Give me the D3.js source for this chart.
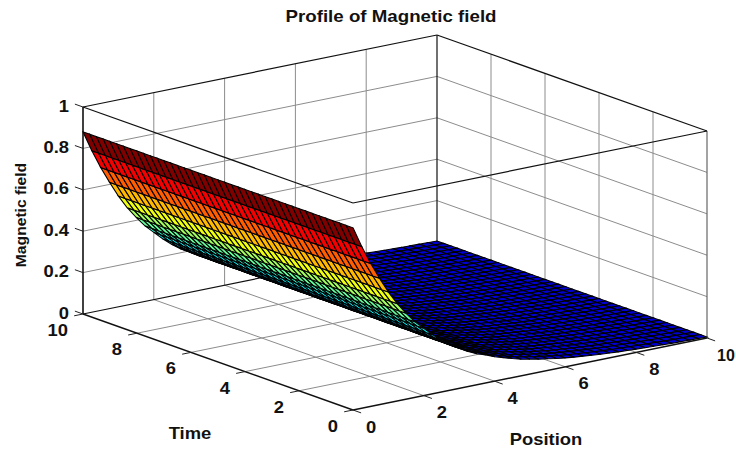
<!DOCTYPE html>
<html>
<head>
<meta charset="utf-8">
<script src="https://cdn.jsdelivr.net/npm/d3@7"></script>
<style>
html, body { margin: 0; padding: 0; background: #fff; overflow: hidden; }
text { font-family: "Liberation Sans", Arial, sans-serif; font-weight: bold; fill: #111; }
</style>
</head>
<body>
<div id="chart"></div>
<script>
// values
var positionValues = [0, 0.25, 0.5, 0.75, 1, 1.25, 1.5, 1.75, 2, 2.25, 2.5, 2.75, 3, 3.25, 3.5, 3.75, 4, 4.25, 4.5, 4.75, 5,
    5.25, 5.5, 5.75, 6, 6.25, 6.5, 6.75, 7, 7.25, 7.5, 7.75, 8, 8.25, 8.5, 8.75, 9, 9.25, 9.5, 9.75, 10];
var timeValues = [0, 0.25, 0.5, 0.75, 1, 1.25, 1.5, 1.75, 2, 2.25, 2.5, 2.75, 3, 3.25, 3.5, 3.75, 4, 4.25, 4.5, 4.75, 5,
    5.25, 5.5, 5.75, 6, 6.25, 6.5, 6.75, 7, 7.25, 7.5, 7.75, 8, 8.25, 8.5, 8.75, 9, 9.25, 9.5, 9.75, 10];
// field along position, same profile at every time
var fieldValues = [0.88, 0.78, 0.69, 0.61, 0.535, 0.47, 0.415, 0.365, 0.325, 0.285, 0.25, 0.22, 0.195, 0.17, 0.15, 0.135, 0.118, 0.105, 0.092, 0.08, 0.072,
    0.063, 0.056, 0.049, 0.043, 0.038, 0.034, 0.03, 0.026, 0.023, 0.02, 0.018, 0.016, 0.014, 0.012, 0.011, 0.009, 0.008, 0.007, 0.006, 0.005];
var positionTicks = [0, 2, 4, 6, 8, 10];
var timeTicks = [0, 2, 4, 6, 8, 10];
var fieldTicks = [0, 0.2, 0.4, 0.6, 0.8, 1];
var fieldTickLabels = ["0", "0.2", "0.4", "0.6", "0.8", "1"];

var svg_w = 736, svg_h = 450;
var svg = d3.select("#chart").append("svg")
    .attr("width", svg_w)
    .attr("height", svg_h);

// screen offset of the 3d box, one scale per axis
var posX = d3.scaleLinear().domain([0, 10]).range([353, 707]);
var posY = d3.scaleLinear().domain([0, 10]).range([410, 338]);
var timeX = d3.scaleLinear().domain([0, 10]).range([0, -270]);
var timeY = d3.scaleLinear().domain([0, 10]).range([0, -96]);
var fieldY = d3.scaleLinear().domain([0, 1]).range([0, -207]);

function project(p, t, z) {
    return [posX(p) + timeX(t), posY(p) + timeY(t) + fieldY(z)];
}

var jet = d3.scaleLinear()
    .domain([0, 0.125, 0.375, 0.625, 0.875, 1])
    .range(["#0000d0", "#0000ff", "#00ffff", "#ffff00", "#ff0000", "#800000"]);
var colorScale = d3.scaleLinear().domain([0, 0.88]).range([0, 1]);

var line = d3.line();

function seg(g, a, b, color, w) {
    g.append("path")
        .attr("d", line([a, b]))
        .attr("fill", "none")
        .attr("stroke", color)
        .attr("stroke-width", w);
}

// labels are a bit wider than the plain font
function label(x, y, size, anchor, rot, stretch, txt) {
    svg.append("text")
        .attr("transform", "translate(" + x + "," + y + ") rotate(" + rot + ") scale(" + stretch + ",1)")
        .attr("text-anchor", anchor)
        .style("font-size", size + "px")
        .text(txt);
}

// grid on the two back walls and floor
var grid = svg.append("g").attr("id", "grid");
var gridColor = "#8c8c8c";
positionTicks.slice(1, -1).forEach(function (p) {
    seg(grid, project(p, 0, 0), project(p, 10, 0), gridColor, 1);
    seg(grid, project(p, 10, 0), project(p, 10, 1), gridColor, 1);
});
timeTicks.slice(1, -1).forEach(function (t) {
    seg(grid, project(0, t, 0), project(10, t, 0), gridColor, 1);
    seg(grid, project(10, t, 0), project(10, t, 1), gridColor, 1);
});
fieldTicks.slice(1, -1).forEach(function (z) {
    seg(grid, project(0, 10, z), project(10, 10, z), gridColor, 1);
    seg(grid, project(10, 10, z), project(10, 0, z), gridColor, 1);
});

// box edges
var box = svg.append("g").attr("id", "box");
seg(box, project(0, 10, 0), project(10, 10, 0), "#111", 1.2);
seg(box, project(10, 10, 0), project(10, 10, 1), "#111", 1.2);
seg(box, project(10, 0, 0), project(10, 0, 1), "#666", 1.2);
seg(box, project(0, 10, 1), project(10, 10, 1), "#111", 1.2);
seg(box, project(10, 10, 1), project(10, 0, 1), "#111", 1.2);
seg(box, project(0, 10, 1), project(0, 0, 1), "#111", 1.2);
seg(box, project(0, 0, 1), project(10, 0, 1), "#111", 1.2);

// surface, far cells first
var cells = [];
d3.range(timeValues.length - 2, -1, -1).forEach(function (j) {
    d3.range(positionValues.length - 2, -1, -1).forEach(function (i) {
        cells.push({i: i, j: j});
    });
});

svg.append("g")
    .attr("id", "surface")
    .selectAll("path")
    .data(cells)
    .enter()
    .append("path")
    .attr("d", function (d) {
        var p0 = positionValues[d.i], p1 = positionValues[d.i + 1];
        var t0 = timeValues[d.j], t1 = timeValues[d.j + 1];
        return line([
            project(p0, t0, fieldValues[d.i]),
            project(p1, t0, fieldValues[d.i + 1]),
            project(p1, t1, fieldValues[d.i + 1]),
            project(p0, t1, fieldValues[d.i])
        ]) + "Z";
    })
    .attr("fill", function (d) { return jet(colorScale(fieldValues[d.i])); })
    .attr("stroke", "#000")
    .attr("stroke-width", 1.1);

// axis lines drawn on top
var axes = svg.append("g").attr("id", "axes");
seg(axes, project(0, 10, 0), project(0, 10, 1), "#111", 1.6);
seg(axes, project(0, 10, 0), project(0, 0, 0), "#111", 1.4);
seg(axes, project(0, 0, 0), project(10, 0, 0), "#111", 1.4);

var tickColor = "#222";
fieldTicks.forEach(function (z) {
    seg(axes, project(0, 10, z), project(0, 10.3, z), tickColor, 1);
});
timeTicks.forEach(function (t) {
    seg(axes, project(0, t, 0), project(-0.25, t, 0), tickColor, 1);
});
positionTicks.forEach(function (p) {
    seg(axes, project(p, 0, 0), project(p, -0.3, 0), tickColor, 1);
});

// tick labels
fieldTicks.forEach(function (z, i) {
    var c = project(0, 10, z);
    label(c[0] - 14, c[1] + 4.5, 16, "end", 0, 1.15, fieldTickLabels[i]);
});
timeTicks.forEach(function (t) {
    var c = project(0, t, 0);
    label(c[0] - 15, c[1] + 22, 16, "end", 0, 1.15, t);
});
positionTicks.forEach(function (p) {
    var c = project(p, 0, 0);
    // last one sits against the page edge, keep it inside
    if (p == 10) {
        label(c[0] + 10, c[1] + 22.5, 16, "start", 0, 1, p);
    } else {
        label(c[0] + 13, c[1] + 22.5, 16, "start", 0, 1.15, p);
    }
});

// titles
label(391, 22, 16, "middle", 0, 1.17, "Profile of Magnetic field");
label(190, 439, 16, "middle", 0, 1.15, "Time");
label(546, 445, 16, "middle", 0, 1.15, "Position");
label(26, 215, 14.5, "middle", -90, 1.08, "Magnetic field");
</script>
</body>
</html>
